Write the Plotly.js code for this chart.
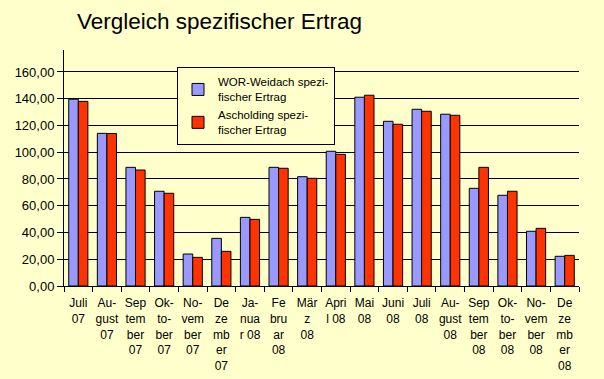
<!DOCTYPE html>
<html>
<head>
<meta charset="utf-8">
<script src="https://cdn.plot.ly/plotly-3.0.1.min.js"></script>
<style>html,body{margin:0;padding:0;background:#FFFFCC;}</style>
</head>
<body>
<div id="chart" style="width:604px;height:379px;"></div>
<script>
const categories = [
  "Juli<br>07", "Au-<br>gust<br>07", "Sep<br>tem<br>ber<br>07", "Ok-<br>to-<br>ber<br>07",
  "No-<br>vem<br>ber<br>07", "De<br>ze<br>mb<br>er<br>07", "Ja-<br>nua<br>r 08", "Fe<br>bru<br>ar<br>08",
  "Mär<br>z<br>08", "Apri<br>l 08", "Mai<br>08", "Juni<br>08", "Juli<br>08", "Au-<br>gust<br>08",
  "Sep<br>tem<br>ber<br>08", "Ok-<br>to-<br>ber<br>08", "No-<br>vem<br>ber<br>08", "De<br>ze<br>mb<br>er<br>08"
];
const weidach = [139.6, 114.1, 88.7, 70.8, 23.9, 35.6, 51.3, 88.7, 81.7, 100.7, 141.1, 123.1, 132.1, 128.4, 73.0, 67.8, 40.9, 22.2];
const ascholding = [138.0, 114.0, 86.7, 69.3, 21.4, 25.9, 49.8, 88.0, 80.5, 98.4, 142.6, 120.9, 130.6, 127.6, 88.7, 70.8, 43.1, 22.9];
const seriesNames = ["WOR-Weidach spezi-<br>fischer Ertrag", "Ascholding spezi-<br>fischer Ertrag"];
const titleText = "Vergleich spezifischer Ertrag";

const font = "Arial, 'Liberation Sans', sans-serif";

const data = [
  {type: "bar", x: categories, y: weidach, name: seriesNames[0],
   marker: {color: "#9999FF", line: {color: "#000000", width: 1}}},
  {type: "bar", x: categories, y: ascholding, name: seriesNames[1],
   marker: {color: "#FF3300", line: {color: "#000000", width: 1}}}
];

const layout = {
  width: 604, height: 379,
  paper_bgcolor: "#FFFFCC", plot_bgcolor: "#FFFFCC",
  font: {family: font, color: "#000000", size: 12},
  separators: ", ",
  margin: {l: 64, r: 25, t: 50, b: 93, pad: 0},
  title: {text: titleText, font: {family: font, size: 22.5, color: "#000000"},
          xref: "container", x: 77/604, xanchor: "left",
          yref: "container", y: 1 - 21/379, yanchor: "middle"},
  barmode: "group", bargap: 0.33, bargroupgap: 0,
  showlegend: true,
  legend: {x: (177-64)/515, xanchor: "left", y: (286-67)/236, yanchor: "top",
           bgcolor: "#FFFFCC", bordercolor: "#000000", borderwidth: 1,
           font: {family: font, size: 11.5, color: "#000000"},
           tracegroupgap: 0, itemwidth: 30},
  xaxis: {type: "category", showgrid: false, showline: true, linecolor: "#000000", linewidth: 1,
          ticks: "outside", tickson: "boundaries", ticklen: 5, tickcolor: "#000000",
          ticklabelstandoff: 6,
          tickangle: 0, tickfont: {family: font, size: 12, color: "#000000"}, fixedrange: true},
  yaxis: {range: [0, 176.4], tick0: 0, dtick: 20, tickformat: ".2f",
          showgrid: true, gridcolor: "#000000", gridwidth: 1, zeroline: false,
          showline: true, linecolor: "#000000", linewidth: 1,
          ticks: "outside", ticklen: 6, tickcolor: "#000000",
          tickfont: {family: font, size: 13, color: "#000000"}}
};

Plotly.newPlot("chart", data, layout, {displayModeBar: false, staticPlot: true});
</script>
</body>
</html>
